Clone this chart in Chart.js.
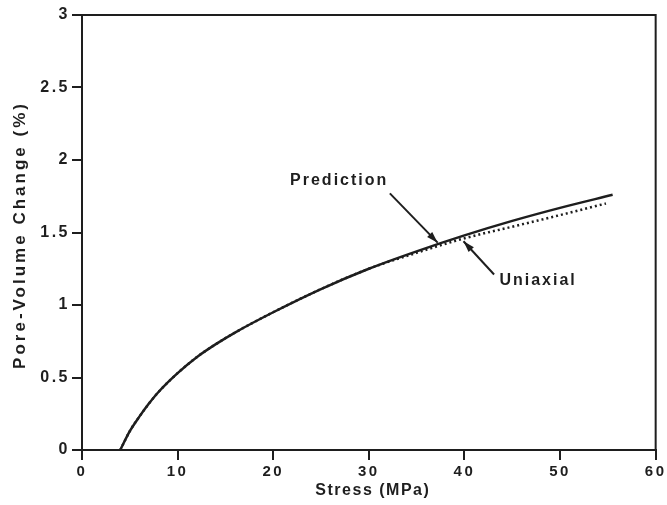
<!DOCTYPE html>
<html>
<head>
<meta charset="utf-8">
<script src="https://cdn.jsdelivr.net/npm/chart.js@4.4.0/dist/chart.umd.min.js"></script>
<style>
  body { margin: 0; background: #fff; }
  #wrap { width: 667px; height: 505px; }
</style>
</head>
<body>
<div id="wrap"><canvas id="myChart" width="667" height="505"></canvas></div>
<script>
// values
var predStress = [4, 5, 6, 7, 8, 10, 12, 14, 16, 20, 25, 30, 35, 40, 45, 50, 55.5];
var predChange = [0, 0.13, 0.23, 0.32, 0.40, 0.53, 0.64, 0.73, 0.81, 0.95, 1.11, 1.25, 1.37, 1.48, 1.58, 1.67, 1.76];

var uniStress = [4, 5, 6, 7, 8, 10, 12, 14, 16, 20, 25, 30, 35, 40, 45, 50, 54.8];
var uniChange = [0, 0.13, 0.23, 0.32, 0.40, 0.53, 0.64, 0.73, 0.81, 0.95, 1.11, 1.25, 1.36, 1.46, 1.54, 1.62, 1.70];

var xTickLabels = ['0', '10', '20', '30', '40', '50', '60'];
var yTickLabels = ['0', '0.5', '1', '1.5', '2', '2.5', '3'];

var xTitle = 'Stress (MPa)';
var yTitle = 'Pore-Volume Change (%)';

var ink = '#1e1e1e';
var font = 'Liberation Sans, Arial, sans-serif';

function toPoints(xs, ys) {
  return xs.map((x, i) => ({ x: x, y: ys[i] }));
}

// wide lettering like the scanned figure
var spacing = {
  id: 'spacing',
  beforeDraw(chart) {
    chart.ctx.letterSpacing = '2.5px';
  }
};

// frame, arrows, labels, axis titles
var notes = {
  id: 'notes',
  afterDraw(chart) {
    const ctx = chart.ctx;
    const xs = chart.scales.x, ys = chart.scales.y;
    const a = chart.chartArea;
    ctx.save();
    ctx.strokeStyle = ink;
    ctx.lineWidth = 2;
    ctx.beginPath();
    ctx.moveTo(a.left, a.top);
    ctx.lineTo(a.right, a.top);
    ctx.lineTo(a.right, a.bottom);
    ctx.stroke();

    function arrow(x0, y0, x1, y1) {
      const px0 = xs.getPixelForValue(x0), py0 = ys.getPixelForValue(y0);
      const px1 = xs.getPixelForValue(x1), py1 = ys.getPixelForValue(y1);
      const ang = Math.atan2(py1 - py0, px1 - px0);
      ctx.lineWidth = 2;
      ctx.beginPath();
      ctx.moveTo(px0, py0);
      ctx.lineTo(px1, py1);
      ctx.stroke();
      ctx.beginPath();
      ctx.moveTo(px1, py1);
      ctx.lineTo(px1 - 12 * Math.cos(ang - 0.3), py1 - 12 * Math.sin(ang - 0.3));
      ctx.lineTo(px1 - 12 * Math.cos(ang + 0.3), py1 - 12 * Math.sin(ang + 0.3));
      ctx.closePath();
      ctx.fillStyle = ink;
      ctx.fill();
    }
    arrow(32.2, 1.77, 37.2, 1.43);
    arrow(43.1, 1.21, 39.9, 1.44);

    ctx.fillStyle = ink;
    ctx.font = 'bold 16px ' + font;
    ctx.letterSpacing = '2px';
    ctx.textAlign = 'center';
    ctx.textBaseline = 'middle';
    ctx.fillText('Prediction', xs.getPixelForValue(26.9), ys.getPixelForValue(1.86));
    ctx.fillText('Uniaxial', xs.getPixelForValue(47.7), ys.getPixelForValue(1.166));

    // axis titles
    ctx.font = 'bold 16px ' + font;
    ctx.letterSpacing = '1.5px';
    ctx.fillText(xTitle, (a.left + a.right) / 2 + 4, 491);
    ctx.save();
    ctx.translate(20, 235);
    ctx.rotate(-Math.PI / 2);
    ctx.font = 'bold 17px ' + font;
    ctx.letterSpacing = '3px';
    ctx.fillText(yTitle, 0, 0);
    ctx.restore();
    ctx.restore();
  }
};

var ctx = document.getElementById('myChart').getContext('2d');
var chart = new Chart(ctx, {
  type: 'scatter',
  data: {
    datasets: [{
      label: 'Prediction',
      data: toPoints(predStress, predChange),
      showLine: true,
      borderColor: ink,
      borderWidth: 2.5,
      pointRadius: 0,
      cubicInterpolationMode: 'monotone'
    }, {
      label: 'Uniaxial',
      data: toPoints(uniStress, uniChange),
      showLine: true,
      borderColor: ink,
      borderWidth: 2.5,
      borderDash: [2, 3],
      pointRadius: 0,
      cubicInterpolationMode: 'monotone'
    }]
  },
  options: {
    responsive: false,
    animation: false,
    layout: { padding: { top: 15, right: 7, left: 0, bottom: 0 } },
    plugins: {
      legend: { display: false },
      tooltip: { enabled: false }
    },
    scales: {
      x: {
        type: 'linear',
        min: 0, max: 60,
        afterFit(scale) { scale.height = 55; },
        grid: { drawOnChartArea: false, drawTicks: true, tickLength: 10, color: ink, lineWidth: 2 },
        border: { display: true, color: ink, width: 2 },
        ticks: {
          stepSize: 10,
          padding: 3,
          color: ink,
          font: { family: font, size: 15, weight: 'bold' },
          callback: (v) => xTickLabels[Math.round(v / 10)]
        }
      },
      y: {
        min: 0, max: 3,
        afterFit(scale) { scale.width = 82; },
        grid: { drawOnChartArea: false, drawTicks: true, tickLength: 10, color: ink, lineWidth: 2 },
        border: { display: true, color: ink, width: 2 },
        ticks: {
          stepSize: 0.5,
          padding: 2,
          color: ink,
          font: { family: font, size: 16, weight: 'bold' },
          callback: (v) => yTickLabels[Math.round(v * 2)]
        }
      }
    }
  },
  plugins: [spacing, notes]
});
</script>
</body>
</html>
